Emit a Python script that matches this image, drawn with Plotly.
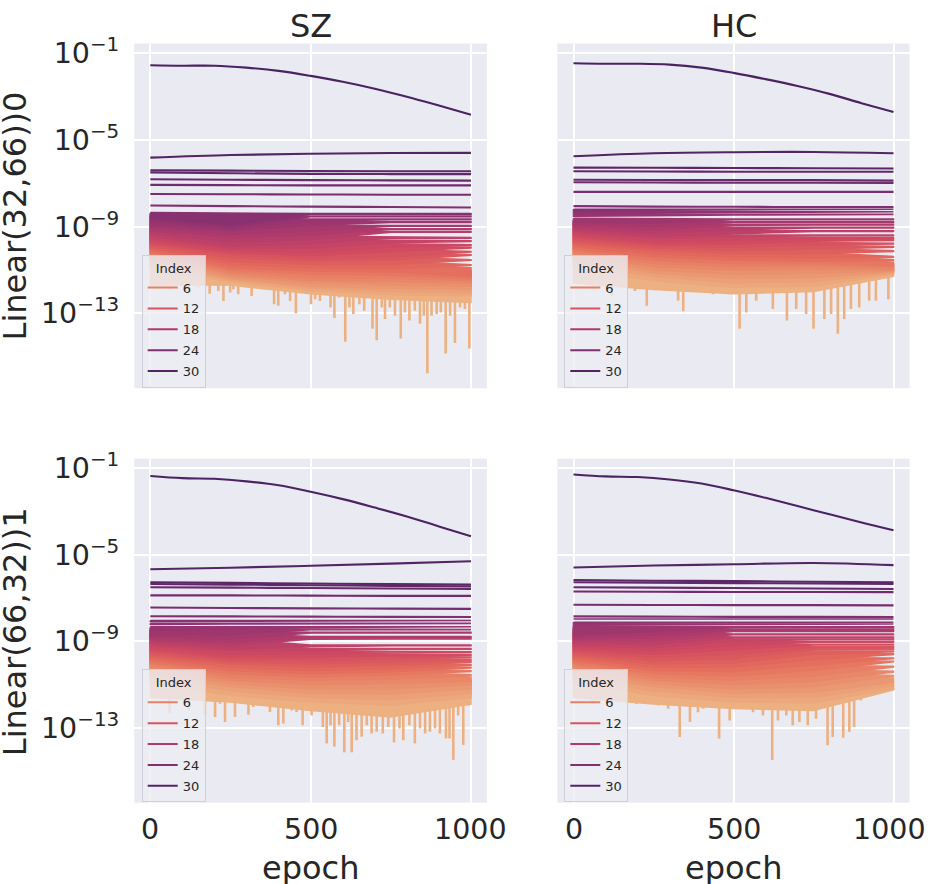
import plotly.graph_objects as go
from plotly.subplots import make_subplots
from plotly.colors import sample_colorscale

epochs_top = [0, 100, 200, 300, 400, 500, 600, 700, 800, 900, 1000]
epochs5 = [0, 250, 500, 750, 1000]
epochs3 = [0, 500, 1000]
x_tick_vals = [0, 500, 1000]
x_tick_text = ["0", "500", "1000"]
y_tick_vals = [1e-1, 1e-5, 1e-9, 1e-13]
y_tick_text = ["10<sup>−1</sup>", "10<sup>−5</sup>", "10<sup>−9</sup>", "10<sup>−13</sup>"]

# ---- values are log10 of the quantity ----
# SZ, Linear(32,66))0
sz0_top = [-1.56, -1.58, -1.58, -1.67, -1.82, -2.05, -2.32, -2.64, -3.01, -3.42, -3.84]
sz0_steady = [  # index 24..30
    [-8.03, -8.06, -8.08, -8.10, -8.12],
    [-7.50, -7.51, -7.52, -7.53, -7.53],
    [-7.08, -7.09, -7.10, -7.10, -7.10],
    [-6.82, -6.84, -6.86, -6.87, -6.88],
    [-6.50, -6.54, -6.57, -6.58, -6.58],
    [-6.40, -6.42, -6.44, -6.45, -6.45],
    [-5.82, -5.70, -5.64, -5.61, -5.60],
]
sz0_up = [  # index 0..23, upper edge at epochs3
    [-10.70, -11.30, -11.70], [-10.55, -11.20, -11.60], [-10.40, -11.10, -11.50],
    [-10.30, -11.00, -11.40], [-10.20, -10.90, -11.30], [-10.10, -10.80, -11.20],
    [-10.00, -10.70, -11.10], [-9.90, -10.60, -11.00], [-9.80, -10.50, -10.90],
    [-9.70, -10.40, -10.76], [-9.60, -10.25, -10.53], [-9.50, -10.10, -10.30],
    [-9.40, -9.95, -10.15], [-9.30, -9.85, -9.96], [-9.20, -9.75, -9.84],
    [-9.10, -9.60, -9.66], [-9.00, -9.45, -9.51], [-8.90, -9.23, -9.23],
    [-8.80, -9.11, -9.11], [-8.70, -8.96, -8.96], [-8.60, -8.78, -8.78],
    [-8.50, -8.66, -8.66], [-8.42, -8.52, -8.52], [-8.36, -8.40, -8.40],
]
sz0_dn = [  # index 0..23, lower edge at epochs5
    [-11.70, -11.70, -12.10, -12.35, -12.50], [-10.95, -11.55, -11.95, -12.15, -12.20],
    [-10.75, -11.45, -11.85, -12.00, -12.05], [-10.60, -11.40, -11.75, -11.85, -11.90],
    [-10.50, -11.30, -11.60, -11.70, -11.75], [-10.40, -11.20, -11.50, -11.55, -11.60],
    [-10.32, -11.10, -11.35, -11.40, -11.50], [-10.24, -11.00, -11.20, -11.25, -11.40],
    [-10.16, -10.90, -11.05, -11.10, -11.30], [-10.08, -10.75, -10.90, -10.95, -10.79],
    [-10.00, -10.60, -10.75, -10.75, -10.56], [-9.92, -10.45, -10.60, -10.55, -10.33],
    [-9.84, -10.30, -10.50, -10.40, -10.18], [-9.76, -10.20, -10.35, -10.15, -9.99],
    [-9.66, -10.10, -10.20, -9.95, -9.87], [-9.56, -10.00, -10.00, -9.75, -9.69],
    [-9.44, -9.90, -9.80, -9.54, -9.54], [-9.32, -9.70, -9.60, -9.26, -9.26],
    [-9.20, -9.50, -9.40, -9.14, -9.14], [-9.08, -9.35, -9.20, -8.99, -8.99],
    [-8.96, -9.20, -8.95, -8.81, -8.81], [-8.84, -9.10, -8.75, -8.69, -8.69],
    [-8.72, -9.00, -8.55, -8.55, -8.55], [-8.60, -8.90, -8.43, -8.43, -8.43],
]
sz0_spike_epoch = [60, 110, 150, 185, 202, 212, 228, 249, 259, 274, 295, 316, 332, 352, 368,
                   386, 399, 420, 436, 454, 472, 488, 501, 514, 529, 548, 562, 574, 589, 608,
                   621, 633, 652, 667, 680, 693, 706, 722, 732, 747, 763, 781, 794, 808, 825,
                   841, 853, 864, 877, 893, 906, 921, 935, 950, 966, 981, 995]
sz0_spike_depth = [-11.9, -12.0, -11.8, -12.1, -11.59, -11.97, -12.43, -12.04, -11.89, -12.12,
                   -11.67, -12.20, -11.82, -11.89, -11.67, -12.58, -12.65, -12.12, -12.43,
                   -13.00, -11.97, -12.04, -12.58, -12.35, -12.43, -11.97, -12.73, -13.22,
                   -12.27, -14.32, -12.73, -13.03, -12.58, -12.88, -12.27, -13.72, -14.25,
                   -12.73, -13.26, -12.73, -13.11, -14.17, -12.96, -13.34, -12.88, -13.49,
                   -13.11, -15.77, -13.11, -13.03, -12.96, -14.86, -13.11, -14.37, -12.73,
                   -12.80, -14.63]

# HC, Linear(32,66))0
hc0_top = [-1.47, -1.49, -1.49, -1.53, -1.67, -1.91, -2.20, -2.52, -2.88, -3.31, -3.72]
hc0_steady = [
    [-8.06, -8.08, -8.09, -8.10, -8.10],
    [-7.40, -7.40, -7.40, -7.40, -7.40],
    [-6.96, -6.97, -6.98, -6.98, -6.99],
    [-6.84, -6.85, -6.86, -6.86, -6.88],
    [-6.45, -6.46, -6.47, -6.47, -6.47],
    [-6.28, -6.29, -6.30, -6.31, -6.32],
    [-5.76, -5.62, -5.57, -5.56, -5.62],
]
hc0_up = [
    [-10.30, -10.90, -11.20], [-10.20, -10.80, -11.10], [-10.10, -10.70, -11.02],
    [-10.00, -10.60, -10.95], [-9.90, -10.50, -10.88], [-9.80, -10.40, -10.80],
    [-9.70, -10.30, -10.72], [-9.60, -10.20, -10.65], [-9.50, -10.10, -10.53],
    [-9.40, -10.00, -10.38], [-9.30, -9.90, -10.12], [-9.20, -9.80, -9.92],
    [-9.10, -9.70, -9.77], [-9.00, -9.58, -9.61], [-8.90, -9.48, -9.51],
    [-8.85, -9.39, -9.39], [-8.80, -9.20, -9.20], [-8.75, -9.04, -9.04],
    [-8.72, -8.90, -8.90], [-8.70, -8.78, -8.78], [-8.62, -8.66, -8.66],
    [-8.44, -8.44, -8.44], [-8.32, -8.32, -8.32], [-8.20, -8.20, -8.20],
]
hc0_dn = [
    [-11.60, -11.90, -12.10, -12.00, -11.30], [-10.90, -11.50, -11.80, -11.75, -11.20],
    [-10.70, -11.30, -11.60, -11.55, -11.15], [-10.55, -11.15, -11.40, -11.35, -11.10],
    [-10.40, -11.00, -11.20, -11.15, -11.05], [-10.30, -10.85, -11.00, -10.95, -11.00],
    [-10.20, -10.70, -10.85, -10.80, -10.90], [-10.10, -10.55, -10.70, -10.70, -10.80],
    [-10.00, -10.40, -10.55, -10.60, -10.56], [-9.90, -10.25, -10.40, -10.45, -10.41],
    [-9.80, -10.10, -10.25, -10.25, -10.15], [-9.70, -10.00, -10.10, -10.05, -9.95],
    [-9.60, -9.90, -9.95, -9.85, -9.80], [-9.50, -9.80, -9.80, -9.68, -9.64],
    [-9.40, -9.70, -9.65, -9.55, -9.54], [-9.30, -9.55, -9.50, -9.42, -9.42],
    [-9.20, -9.45, -9.35, -9.23, -9.23], [-9.10, -9.30, -9.15, -9.07, -9.07],
    [-9.00, -9.15, -8.95, -8.93, -8.93], [-8.90, -9.00, -8.81, -8.81, -8.81],
    [-8.80, -8.85, -8.69, -8.69, -8.69], [-8.52, -8.50, -8.47, -8.47, -8.47],
    [-8.40, -8.38, -8.35, -8.35, -8.35], [-8.28, -8.25, -8.23, -8.23, -8.23],
]
hc0_spike_epoch = [60, 120, 170, 192, 229, 260, 291, 327, 343, 374, 405, 436, 462, 488, 519,
                   540, 571, 623, 667, 696, 727, 750, 784, 805, 826, 846, 867, 893, 924, 945, 984]
hc0_spike_depth = [-11.9, -12.2, -11.8, -11.97, -12.65, -11.67, -11.82, -12.42, -12.91, -11.97,
                   -11.82, -12.12, -11.97, -12.12, -13.72, -12.96, -12.42, -12.80, -13.34,
                   -12.80, -13.03, -13.72, -13.26, -13.03, -13.95, -13.26, -12.80, -12.73,
                   -12.42, -12.42, -12.35]

# SZ, Linear(66,32))1
sz1_top = [-1.36, -1.46, -1.49, -1.61, -1.79, -2.09, -2.43, -2.82, -3.23, -3.69, -4.15]
sz1_steady = [
    [-7.84, -7.85, -7.86, -7.87, -7.88],
    [-7.44, -7.46, -7.48, -7.49, -7.50],
    [-6.88, -6.88, -6.89, -6.90, -6.90],
    [-6.50, -6.52, -6.54, -6.56, -6.58],
    [-6.35, -6.38, -6.41, -6.44, -6.47],
    [-6.27, -6.30, -6.33, -6.36, -6.38],
    [-5.67, -5.60, -5.51, -5.41, -5.30],
]
sz1_up = [
    [-10.20, -10.90, -11.15], [-10.10, -10.80, -11.05], [-10.00, -10.70, -10.95],
    [-9.90, -10.60, -10.85], [-9.80, -10.50, -10.75], [-9.70, -10.40, -10.65],
    [-9.60, -10.30, -10.55], [-9.50, -10.20, -10.36], [-9.40, -10.05, -10.20],
    [-9.30, -9.95, -10.08], [-9.20, -9.85, -9.95], [-9.10, -9.75, -9.84],
    [-9.00, -9.65, -9.73], [-8.90, -9.55, -9.61], [-8.80, -9.45, -9.48],
    [-8.70, -9.34, -9.34], [-8.62, -9.17, -9.17], [-8.55, -8.86, -8.86],
    [-8.50, -8.78, -8.78], [-8.45, -8.59, -8.59], [-8.40, -8.43, -8.43],
    [-8.33, -8.33, -8.33], [-8.17, -8.17, -8.17], [-8.04, -8.04, -8.04],
]
sz1_dn = [
    [-11.60, -11.80, -12.20, -12.50, -11.90], [-10.90, -11.50, -11.80, -11.95, -11.60],
    [-10.70, -11.30, -11.60, -11.70, -11.40], [-10.50, -11.10, -11.40, -11.45, -11.20],
    [-10.35, -10.95, -11.20, -11.20, -11.00], [-10.20, -10.80, -11.00, -10.95, -10.85],
    [-10.10, -10.65, -10.80, -10.75, -10.58], [-10.00, -10.50, -10.65, -10.55, -10.39],
    [-9.90, -10.35, -10.50, -10.40, -10.23], [-9.80, -10.20, -10.35, -10.25, -10.11],
    [-9.70, -10.05, -10.20, -10.10, -9.98], [-9.60, -9.95, -10.05, -9.95, -9.87],
    [-9.50, -9.85, -9.90, -9.80, -9.76], [-9.40, -9.75, -9.75, -9.66, -9.64],
    [-9.30, -9.60, -9.60, -9.51, -9.51], [-9.20, -9.45, -9.45, -9.37, -9.37],
    [-9.10, -9.35, -9.25, -9.20, -9.20], [-9.00, -9.20, -8.90, -8.89, -8.89],
    [-8.90, -9.05, -8.81, -8.81, -8.81], [-8.80, -8.90, -8.62, -8.62, -8.62],
    [-8.70, -8.70, -8.46, -8.46, -8.46], [-8.50, -8.45, -8.36, -8.36, -8.36],
    [-8.22, -8.20, -8.20, -8.20, -8.20], [-8.08, -8.07, -8.07, -8.07, -8.07],
]
sz1_spike_epoch = [60, 120, 170, 202, 217, 233, 249, 264, 280, 306, 321, 337, 352, 373, 399,
                   415, 441, 456, 475, 488, 503, 519, 538, 550, 562, 574, 589, 605, 617, 628,
                   643, 659, 675, 690, 706, 725, 742, 760, 777, 789, 808, 825, 841, 857, 872,
                   888, 903, 922, 933, 945, 960, 976, 992]
sz1_spike_depth = [-12.3, -12.2, -12.4, -12.50, -11.89, -12.73, -11.74, -12.50, -11.82, -12.40,
                   -12.04, -11.97, -11.89, -12.27, -12.88, -12.80, -12.20, -12.27, -12.88,
                   -12.12, -12.43, -12.20, -12.96, -13.72, -12.88, -13.87, -12.88, -14.13,
                   -12.73, -14.13, -13.57, -13.41, -12.88, -13.26, -13.18, -13.26, -12.96,
                   -13.67, -13.03, -13.57, -12.88, -13.72, -13.03, -13.26, -13.18, -13.03,
                   -13.26, -13.49, -13.49, -14.48, -12.43, -13.79, -11.97]

# HC, Linear(66,32))1
hc1_top = [-1.29, -1.38, -1.41, -1.52, -1.71, -2.02, -2.37, -2.75, -3.13, -3.51, -3.87]
hc1_steady = [
    [-7.85, -7.86, -7.87, -7.87, -7.88],
    [-7.31, -7.32, -7.33, -7.33, -7.34],
    [-6.70, -6.71, -6.72, -6.72, -6.73],
    [-6.50, -6.52, -6.54, -6.56, -6.58],
    [-6.27, -6.29, -6.31, -6.33, -6.35],
    [-6.17, -6.20, -6.22, -6.25, -6.27],
    [-5.59, -5.50, -5.44, -5.38, -5.48],
]
hc1_up = [
    [-10.10, -10.80, -11.10], [-10.00, -10.70, -11.00], [-9.90, -10.60, -10.85],
    [-9.80, -10.50, -10.70], [-9.70, -10.40, -10.58], [-9.60, -10.25, -10.39],
    [-9.50, -10.10, -10.16], [-9.40, -9.90, -9.92], [-9.30, -9.75, -9.77],
    [-9.20, -9.58, -9.58], [-9.10, -9.45, -9.45], [-9.00, -9.34, -9.34],
    [-8.90, -9.26, -9.26], [-8.80, -9.14, -9.14], [-8.70, -9.01, -9.01],
    [-8.60, -8.90, -8.90], [-8.50, -8.80, -8.80], [-8.42, -8.67, -8.67],
    [-8.36, -8.51, -8.51], [-8.30, -8.43, -8.43], [-8.28, -8.33, -8.33],
    [-8.20, -8.20, -8.20], [-8.12, -8.12, -8.12], [-7.97, -7.97, -7.97],
]
hc1_dn = [
    [-11.60, -11.90, -12.10, -12.20, -11.25], [-10.90, -11.50, -11.80, -11.85, -11.20],
    [-10.70, -11.30, -11.60, -11.60, -11.05], [-10.50, -11.10, -11.40, -11.35, -10.90],
    [-10.35, -10.95, -11.20, -11.10, -10.61], [-10.20, -10.80, -11.00, -10.85, -10.42],
    [-10.10, -10.65, -10.80, -10.60, -10.19], [-10.00, -10.50, -10.60, -10.35, -9.95],
    [-9.90, -10.35, -10.40, -10.10, -9.80], [-9.80, -10.20, -10.20, -9.85, -9.61],
    [-9.70, -10.05, -10.00, -9.60, -9.48], [-9.60, -9.90, -9.80, -9.40, -9.37],
    [-9.50, -9.75, -9.60, -9.29, -9.29], [-9.40, -9.60, -9.40, -9.17, -9.17],
    [-9.30, -9.45, -9.20, -9.04, -9.04], [-9.20, -9.30, -9.00, -8.93, -8.93],
    [-9.10, -9.15, -8.85, -8.83, -8.83], [-9.00, -9.00, -8.70, -8.70, -8.70],
    [-8.90, -8.85, -8.54, -8.54, -8.54], [-8.80, -8.70, -8.46, -8.46, -8.46],
    [-8.70, -8.55, -8.36, -8.36, -8.36], [-8.25, -8.23, -8.23, -8.23, -8.23],
    [-8.16, -8.15, -8.15, -8.15, -8.15], [-8.00, -8.00, -8.00, -8.00, -8.00],
]
hc1_spike_epoch = [60, 120, 170, 197, 218, 239, 265, 296, 332, 364, 389, 405, 455, 488, 519,
                   561, 592, 621, 639, 665, 685, 706, 732, 758, 794, 810, 843, 862, 877, 898]
hc1_spike_depth = [-11.9, -12.0, -11.8, -11.90, -11.67, -11.74, -11.97, -12.12, -13.42, -12.73,
                   -12.28, -12.12, -13.49, -12.66, -12.12, -12.28, -12.43, -14.48, -12.66,
                   -12.43, -12.88, -12.73, -12.88, -12.58, -13.80, -13.42, -13.46, -13.19,
                   -12.96, -11.74]

legend_idx = [6, 12, 18, 24, 30]

flare = [[0, "#edb081"], [1 / 7, "#e98d6b"], [2 / 7, "#e3685c"], [3 / 7, "#d14a61"],
         [4 / 7, "#b13c6c"], [5 / 7, "#8f3371"], [6 / 7, "#6c2b6d"], [1, "#4b2362"]]
colors = sample_colorscale(flare, [k / 31 for k in range(32)])


def fx(x):
    return min(x / 930, 0.9995)


def fy(y):
    return 1 - y / 884


def p10(vals):
    return [10 ** v for v in vals]


def add_panel(fig, row, col, top, steady, up, dn, sp_ep, sp_dep):
    xs, ys = [], []
    for e, d in zip(sp_ep, sp_dep):
        xs += [e, e, None]
        ys += [1e-11, 10 ** d, None]
    fig.add_trace(go.Scatter(x=xs, y=ys, mode="lines", line=dict(color=colors[0], width=2.6),
                             showlegend=False, hoverinfo="skip"), row=row, col=col)
    for k in range(24):
        x = epochs3 + epochs5[::-1] + [0]
        y = p10(up[k]) + p10(dn[k][::-1]) + [10 ** up[k][0]]
        fig.add_trace(go.Scatter(x=x, y=y, mode="lines", fill="toself", fillcolor=colors[k],
                                 line=dict(color=colors[k], width=1.6),
                                 showlegend=False, hoverinfo="skip"), row=row, col=col)
    for j, vals in enumerate(steady):
        fig.add_trace(go.Scatter(x=epochs5, y=p10(vals), mode="lines",
                                 line=dict(color=colors[24 + j], width=2.1, shape="spline"),
                                 showlegend=False, hoverinfo="skip"), row=row, col=col)
    fig.add_trace(go.Scatter(x=epochs_top, y=p10(top), mode="lines",
                             line=dict(color=colors[31], width=2.1, shape="spline"),
                             showlegend=False, hoverinfo="skip"), row=row, col=col)


fig = make_subplots(rows=2, cols=2)
panels = [
    (1, 1, sz0_top, sz0_steady, sz0_up, sz0_dn, sz0_spike_epoch, sz0_spike_depth, "legend"),
    (1, 2, hc0_top, hc0_steady, hc0_up, hc0_dn, hc0_spike_epoch, hc0_spike_depth, "legend2"),
    (2, 1, sz1_top, sz1_steady, sz1_up, sz1_dn, sz1_spike_epoch, sz1_spike_depth, "legend3"),
    (2, 2, hc1_top, hc1_steady, hc1_up, hc1_dn, hc1_spike_epoch, hc1_spike_depth, "legend4"),
]
for r, c, top, steady, up, dn, se, sd, leg in panels:
    add_panel(fig, r, c, top, steady, up, dn, se, sd)
    for k in legend_idx:
        fig.add_trace(go.Scatter(x=[None], y=[None], mode="lines", name=str(k),
                                 line=dict(color=colors[k], width=2), legend=leg,
                                 legendgroup=leg + str(k)), row=r, col=c)

xdom = {1: [fx(134.3), fx(487)], 2: [fx(557.5), fx(909.5)]}
ydom = {1: [fy(382), fy(33)], 2: [fy(801.7), fy(453.3)]}
tick_font = dict(family="DejaVu Sans", size=28.5, color="#262626")
for r in (1, 2):
    for c in (1, 2):
        fig.update_xaxes(domain=xdom[c], range=[-50, 1050], tickvals=x_tick_vals,
                         showgrid=True, gridcolor="white", gridwidth=1.8, zeroline=False,
                         showline=False, ticks="", showticklabels=False, row=r, col=c)
        fig.update_yaxes(domain=ydom[r], type="log", range=[-16.46, -0.56],
                         tickvals=y_tick_vals, ticktext=y_tick_text,
                         showgrid=True, gridcolor="white", gridwidth=1.8, zeroline=False,
                         showline=False, ticks="", tickfont=tick_font,
                         showticklabels=(c == 1), ticklabelstandoff=14, row=r, col=c)

legend_style = dict(title=dict(text="Index", side="top center",
                               font=dict(family="DejaVu Sans", size=13, color="#262626")),
                    font=dict(family="DejaVu Sans", size=13, color="#262626"),
                    bgcolor="rgba(236,236,243,0.8)", bordercolor="#cfcfd6", borderwidth=1,
                    xanchor="left", yanchor="top", itemwidth=30, tracegroupgap=1,
                    traceorder="grouped")
leg_pos = {"legend": (141.7, 246.7), "legend2": (564.3, 246.7),
           "legend3": (141.7, 666.7), "legend4": (564.3, 666.7)}
layout_legends = {}
for name, (px, py) in leg_pos.items():
    layout_legends[name] = dict(legend_style, x=fx(px), y=fy(py))

title_font = dict(family="DejaVu Sans", size=32, color="#262626")
annotations = [
    dict(text="SZ", x=fx(310.65), y=fy(15)),
    dict(text="HC", x=fx(733.75), y=fy(15)),
    dict(text="epoch", x=fx(310.65), y=fy(868)),
    dict(text="epoch", x=fx(733.75), y=fy(868)),
    dict(text="Linear(32,66))0", x=fx(15), y=fy(208), textangle=-90),
    dict(text="Linear(66,32))1", x=fx(15), y=fy(629), textangle=-90),
]
for a in annotations:
    a.update(xref="paper", yref="paper", showarrow=False, font=title_font,
             xanchor="center", yanchor="middle")
# x tick labels of the bottom row, placed on the axes' own scale
for xref in ("x3", "x4"):
    for v, t in zip(x_tick_vals, x_tick_text):
        shift = -4 if (xref == "x4" and v == 1000) else 0
        annotations.append(dict(text=t, x=v, xref=xref, y=fy(829), yref="paper",
                                showarrow=False, xanchor="center", yanchor="middle",
                                xshift=shift, font=tick_font))

fig.update_layout(autosize=True, margin=dict(l=0, r=0, t=0, b=0),
                  paper_bgcolor="white", plot_bgcolor="#eaeaf2",
                  font=dict(family="DejaVu Sans", color="#262626"),
                  annotations=annotations, hovermode=False, **layout_legends)

fig.write_html("out.html", config={"displayModeBar": False},
               default_width="100vw", default_height="100vh",
               post_script="document.documentElement.style.margin='0';"
                           "document.body.style.margin='0';"
                           "document.body.style.overflow='hidden';"
                           "Plotly.Plots.resize(document.getElementById('{plot_id}'));")
